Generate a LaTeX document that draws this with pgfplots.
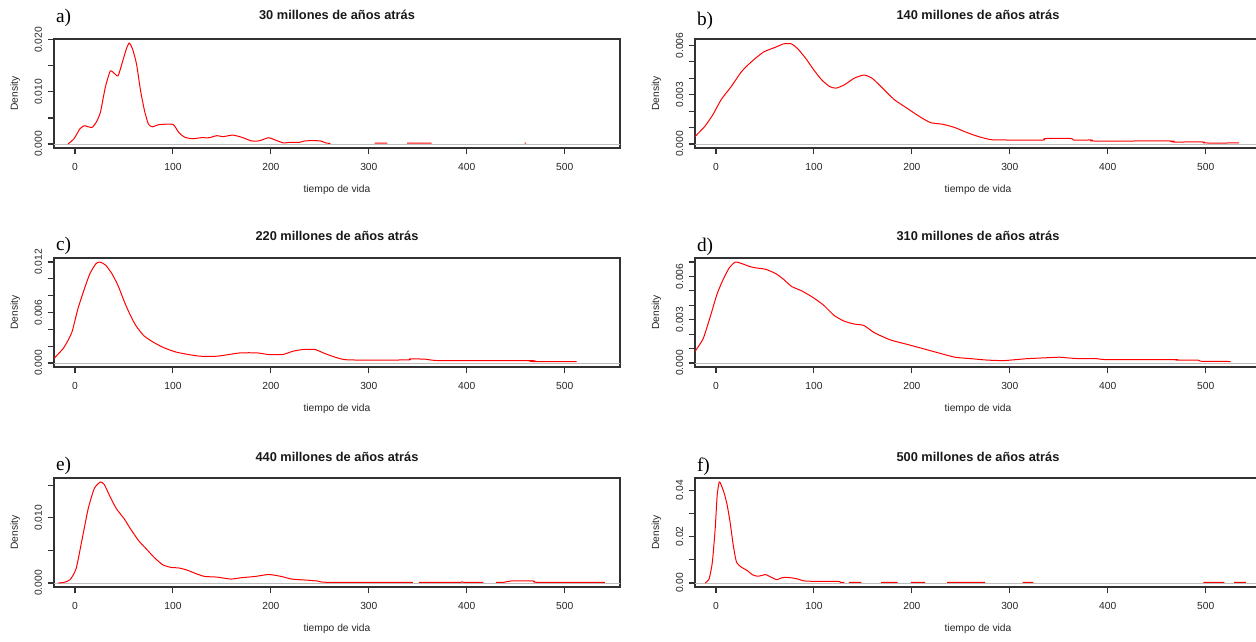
\documentclass[border=0pt]{standalone}
\usepackage{fontspec}
\setmainfont{Liberation Sans}
\newfontfamily\letterfont{Liberation Serif}
\usepackage{pgfplots}
\pgfplotsset{compat=1.18}

\definecolor{zeroline}{RGB}{190,190,190}
\definecolor{framecol}{RGB}{50,50,50}

\pgfplotsset{
  dens/.style={
    scale only axis, width=424.5pt, height=81.75pt, anchor=south west,
    xmin=-21.4, xmax=556.4,
    clip mode=individual,
    unbounded coords=jump,
    scaled y ticks=false, scaled x ticks=false,
    axis line style={framecol, line width=0.85pt},
    tick align=outside, xtick pos=bottom, ytick pos=left,
    major tick length=4.8pt,
    every tick/.style={framecol, line width=0.85pt},
    minor tick num=0,
    xtick={0,100,200,300,400,500}, xticklabels={0,100,200,300,400,500},
    tick label style={font=\fontsize{7.7}{8}\selectfont, text=black!85},
    xticklabel style={anchor=base, yshift=-12.4pt},
    yticklabel style={xshift=-4.2pt, rotate=90, anchor=base},
    xlabel={tiempo de vida}, ylabel={Density},
    label style={font=\fontsize{7.7}{8}\selectfont, text=black!85},
    xlabel style={at={(axis description cs:0.5,0)}, anchor=base, yshift=-33.75pt},
    ylabel style={at={([xshift=-27pt]axis description cs:0,0.5)}, anchor=base},
    title style={font=\bfseries\fontsize{9.6}{10}\selectfont, text=black!90,
      at={(axis description cs:0.5,1)}, anchor=base},
  },
  curve/.style={red, line width=0.75pt, smooth, tension=0.35},
  zero/.style={zeroline, line width=0.6pt, forget plot},
}
\tikzset{letter/.style={anchor=base west, font=\letterfont\fontsize{14.5}{15}\selectfont}}

\begin{document}
\begin{tikzpicture}
\useasboundingbox (0,0) rectangle (942pt,481.5pt);
\clip (0,0) rectangle (942pt,481.5pt);

% a) 30 Ma
\begin{axis}[dens, name=pa, at={(40.5pt,370.5pt)},
  title={30 millones de años atrás}, title style={yshift=8.8pt},
  ymin=-0.000776, ymax=0.020176,
  ytick={0,0.005,0.010,0.015,0.020}, yticklabels={0.000,,0.010,,0.020}]
\addplot[zero] coordinates {(-30,0) (570,0)};
\addplot[curve] coordinates {
(-7,0) (-1,0.001) (5,0.0029) (9.4,0.0035) (13.5,0.0033) (17.6,0.0032)
(21.8,0.0042) (26,0.0061) (31,0.0109) (36,0.014) (40,0.0136) (44,0.0131)
(48.4,0.0157) (52.5,0.0183) (55.4,0.0194) (58.7,0.0183) (62.8,0.0154)
(66.9,0.0103) (71,0.0064) (75,0.0038) (79,0.0033) (85.4,0.0037)
(93.6,0.0038) (100.6,0.0037) (106,0.0022) (112,0.0013) (120,0.001)
(128.5,0.0012) (137,0.0012) (145,0.0016) (151,0.0014) (161,0.0017)
(170,0.0013) (180,0.0006) (188,0.0006) (197.5,0.0012) (204,0.0008)
(212.6,0.0002) (219,0.0003) (229,0.0003) (235,0.0006) (250,0.0006)
(256,0.0002) (260.7,0.0001) (261,nan)
(306,0.00015) (319,0.00015) (320,nan)
(339,0.00015) (364,0.00015) (365,nan)
(459,0.00015) (460.6,0.00015)};
\end{axis}
\node[letter] at ([xshift=-2pt,yshift=12pt]pa.north west) {a)};

% b) 140 Ma
\begin{axis}[dens, name=pb, at={(521.25pt,370.5pt)},
  title={140 millones de años atrás}, title style={yshift=8.8pt},
  ymin=-0.000246, ymax=0.006396,
  ytick={0,0.001,0.002,0.003,0.004,0.005,0.006}, yticklabels={0.000,,,0.003,,,0.006}]
\addplot[zero] coordinates {(-30,0) (570,0)};
\addplot[curve] coordinates {
(-21.4,0.00045) (-11,0.0011) (-3,0.0018) (5.3,0.0027) (15.6,0.0035)
(26,0.0044) (36,0.0050) (48.5,0.0056) (61,0.0059) (69,0.0061) (77,0.0061)
(83.5,0.0058) (91.8,0.0052) (100,0.0045) (108,0.0039) (116,0.0035)
(122.5,0.0034) (131,0.0036) (141,0.0040) (151,0.0042) (159.5,0.0040)
(170,0.0034) (182,0.0027) (194.5,0.0022) (207,0.0017) (219,0.0013)
(231.5,0.0012) (243.8,0.0010) (256,0.0007) (268,0.00045) (281,0.00026)
(301,0.00024) (334,0.00024) (336,0.00033) (363,0.00033) (365,0.00024)
(384,0.00024) (386,0.00018) (464,0.00018) (466,0.00012) (497,0.00012)
(499,0.00006) (534,0.00006)};
\end{axis}
\node[letter] at ([xshift=-2pt,yshift=10pt]pb.north west) {b)};

% c) 220 Ma
\begin{axis}[dens, name=pc, at={(40.5pt,206.25pt)},
  title={220 millones de años atrás}, title style={yshift=7.3pt},
  ymin=-0.00048, ymax=0.01248,
  ytick={0,0.002,0.004,0.006,0.008,0.010,0.012}, yticklabels={0.000,,,0.006,,,0.012}]
\addplot[zero] coordinates {(-30,0) (570,0)};
\addplot[curve] coordinates {
(-21.8,0.0005) (-11.5,0.0018) (-3.3,0.0036) (2.9,0.0064) (9,0.0086)
(15.2,0.0106) (21.4,0.0118) (25.5,0.0120) (31.6,0.0116) (37.8,0.0106)
(44,0.0092) (50,0.0074) (56,0.0058) (62.4,0.0044) (70.7,0.0032)
(81,0.0024) (91,0.0018) (103,0.0013) (116,0.0010) (128,0.0008)
(144.6,0.0008) (157,0.0010) (169,0.0012) (185.7,0.0012) (198,0.0010)
(212,0.0010) (222.7,0.0014) (233,0.0016) (245,0.0016) (255.5,0.0011)
(268,0.0006) (280,0.00036) (339.8,0.00036) (342,0.0005) (358.5,0.00044)
(372.7,0.00028) (465,0.00028) (467,0.00016) (512,0.00016)};
\end{axis}
\node[letter] at ([xshift=-2pt,yshift=5.5pt]pc.north west) {c)};

% d) 310 Ma
\begin{axis}[dens, name=pd, at={(521.25pt,206.25pt)},
  title={310 millones de años atrás}, title style={yshift=7.3pt},
  ymin=-0.00028, ymax=0.00728,
  ytick={0,0.001,0.002,0.003,0.004,0.005,0.006,0.007}, yticklabels={0.000,,,0.003,,,0.006,}]
\addplot[zero] coordinates {(-30,0) (570,0)};
\addplot[curve] coordinates {
(-21.4,0.0008) (-13,0.0017) (-5,0.0034) (1.2,0.0048) (7.4,0.0058)
(13.6,0.0066) (19.7,0.0070) (26,0.0069) (34,0.0067) (40,0.0066)
(50.6,0.0065) (61,0.0062) (69,0.0058) (77.3,0.0053) (87.6,0.0050)
(100,0.0045) (110,0.0040) (120.5,0.0033) (130.8,0.0029) (141,0.0027)
(151,0.0026) (161.6,0.0021) (178,0.0016) (194.5,0.0013) (211,0.0010)
(227,0.0007) (243.8,0.0004) (260,0.0003) (276.7,0.0002) (293,0.00016)
(301,0.0002) (318,0.0003) (334,0.00035) (350.7,0.0004) (359,0.00035)
(371,0.0003) (388,0.0003) (400,0.00023) (468,0.00023) (470,0.0002)
(492,0.0002) (494.6,0.00012) (525.5,0.0001)};
\end{axis}
\node[letter] at ([xshift=-2pt,yshift=4.5pt]pd.north west) {d)};

% e) 440 Ma
\begin{axis}[dens, name=pe, at={(40.5pt,41.25pt)},
  title={440 millones de años atrás}, title style={yshift=6.5pt},
  ymin=-0.00062, ymax=0.01612,
  ytick={0,0.005,0.010,0.015}, yticklabels={0.000,,0.010,}]
\addplot[zero] coordinates {(-30,0) (570,0)};
\addplot[curve] coordinates {
(-17,0) (-11,0.0001) (-5,0.0005) (1.2,0.0022) (7.4,0.0068) (13.5,0.0114)
(19.7,0.0145) (25.9,0.0155) (30,0.0151) (36,0.0132) (42.3,0.0114)
(50.5,0.0098) (56.7,0.0083) (65,0.0065) (73,0.0052) (81,0.0039)
(89.5,0.0028) (97.7,0.0024) (106,0.0023) (114,0.0020) (124,0.0014)
(132.6,0.0010) (145,0.0009) (159,0.0006) (169.5,0.0008) (184,0.0010)
(198,0.0013) (210.6,0.0010) (221,0.0006) (235,0.00045) (247.5,0.0003)
(258,0.0001) (345,0.0001) (346,nan)
(351,0.0001) (393,0.0001) (395,0.0002) (397,0.0001) (417,0.0001) (418,nan)
(430,0.0001) (438,0.0001) (445,0.0003) (468,0.0003) (472,0.0001) (541,0.0001)};
\end{axis}
\node[letter] at ([xshift=-2pt,yshift=5.25pt]pe.north west) {e)};

% f) 500 Ma
\begin{axis}[dens, name=pf, at={(521.25pt,41.25pt)},
  title={500 millones de años atrás}, title style={yshift=6.5pt},
  ymin=-0.00174, ymax=0.04524,
  ytick={0,0.01,0.02,0.03,0.04}, yticklabels={0.00,,0.02,,0.04}]
\addplot[zero] coordinates {(-30,0) (570,0)};
\addplot[curve] coordinates {
(-11,0) (-7,0.0017) (-3.7,0.0089) (-0.8,0.0233) (1.2,0.0377) (3.3,0.0435)
(5.3,0.0423) (8.6,0.0384) (11.5,0.0334) (14.4,0.0262) (17.7,0.0161)
(21,0.0089) (26,0.0068) (32,0.0053) (37.4,0.0035) (42.4,0.0029)
(46.5,0.0032) (50.6,0.0036) (56.7,0.0024) (62,0.0014) (67,0.0022)
(71,0.0024) (77.3,0.0022) (83.5,0.0017) (89.6,0.0009) (100,0.0007)
(124.6,0.0007) (127,0.0003) (131,0.0003) (132,nan)
(135.7,0.0003) (148.4,0.0003) (149,nan)
(168.6,0.0003) (185.4,0.0003) (186,nan)
(199,0.0003) (213.4,0.0003) (214,nan)
(236,0.0003) (274.7,0.0003) (275,nan)
(313,0.0003) (324,0.0003) (325,nan)
(497.5,0.0003) (519,0.0003) (520,nan)
(529,0.0003) (541,0.0003)};
\end{axis}
\node[letter] at ([xshift=-2pt,yshift=4.5pt]pf.north west) {f)};
\end{tikzpicture}
\end{document}
